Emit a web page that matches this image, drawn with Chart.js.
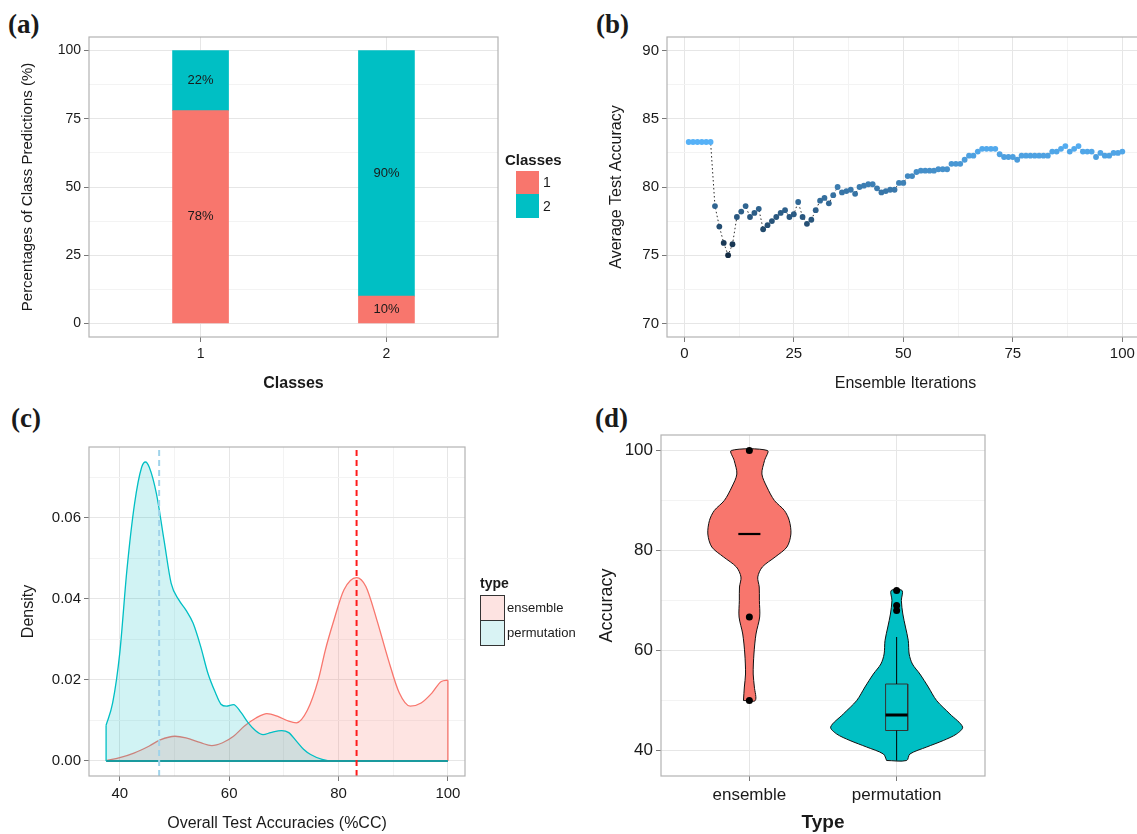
<!DOCTYPE html>
<html>
<head>
<meta charset="utf-8">
<title>Ensemble classification results</title>
<script src="https://cdn.jsdelivr.net/npm/chart.js@4.4.1/dist/chart.umd.min.js"></script>
<style>
  html, body { margin: 0; padding: 0; background: #fff; overflow: hidden; }
  #page { position: relative; width: 1137px; height: 834px; overflow: hidden;
          font-family: "Liberation Sans", Arial, sans-serif; color: #1a1a1a; }
  canvas { position: absolute; }
  .tag { position: absolute; font: bold 27px "Liberation Serif", "Times New Roman", serif; line-height: 1; }
  .legend { position: absolute; }
  .legend .ttl { position: absolute; left: 0; top: 0; font-weight: bold; white-space: nowrap; }
  .legend .key { position: absolute; box-sizing: border-box; }
  .legend .lbl { position: absolute; white-space: nowrap; }
</style>
</head>
<body>
<div id="page">
  <div class="tag" style="left:8px;top:11px">(a)</div>
  <div class="tag" style="left:596px;top:11px">(b)</div>
  <div class="tag" style="left:11px;top:405px">(c)</div>
  <div class="tag" style="left:595px;top:405px">(d)</div>

  <canvas id="chartA" width="580" height="410" style="left:0;top:0"></canvas>
  <canvas id="chartB" width="570" height="410" style="left:580px;top:0"></canvas>
  <canvas id="chartC" width="580" height="434" style="left:0;top:400px"></canvas>
  <canvas id="chartD" width="557" height="434" style="left:580px;top:400px"></canvas>

  <div class="legend" style="left:505px;top:151px;font-size:14px">
    <div class="ttl" style="font-size:15px">Classes</div>
    <div class="key" style="left:11px;top:20px;width:23px;height:23px;background:#F8766D"></div>
    <div class="key" style="left:11px;top:43px;width:23px;height:24px;background:#00BFC4"></div>
    <div class="lbl" style="left:38px;top:23px">1</div>
    <div class="lbl" style="left:38px;top:47px">2</div>
  </div>

  <div class="legend" style="left:480px;top:575px;font-size:13px">
    <div class="ttl" style="font-size:14px">type</div>
    <div class="key" style="left:0;top:20px;width:25px;height:26px;background:#fde3e1;border:1.5px solid #333"></div>
    <div class="key" style="left:0;top:45px;width:25px;height:26px;background:#d9f3f4;border:1.5px solid #333"></div>
    <div class="lbl" style="left:27px;top:25px">ensemble</div>
    <div class="lbl" style="left:27px;top:50px">permutation</div>
  </div>
</div>

<script>
// (a) class predictions
const classCats = ['1', '2'];
const class1Pct = [78, 10];
const class2Pct = [22, 90];
const pctTicks = [0, 25, 50, 75, 100];

// (b) average accuracy per ensemble iteration
const accuracy = [83.3, 83.3, 83.3, 83.3, 83.3, 83.3, 78.6, 77.1, 75.9, 75.0,
  75.8, 77.8, 78.2, 78.6, 77.8, 78.1, 78.4, 76.9, 77.2, 77.5,
  77.8, 78.1, 78.3, 77.8, 78.0, 78.9, 77.8, 77.3, 77.6, 78.3,
  79.0, 79.2, 78.8, 79.4, 80.0, 79.6, 79.7, 79.8, 79.5, 80.0,
  80.1, 80.2, 80.2, 79.9, 79.6, 79.7, 79.8, 79.8, 80.3, 80.3,
  80.8, 80.8, 81.1, 81.2, 81.2, 81.2, 81.2, 81.3, 81.3, 81.3,
  81.7, 81.7, 81.7, 82.0, 82.3, 82.3, 82.6, 82.8, 82.8, 82.8,
  82.8, 82.4, 82.2, 82.2, 82.2, 82.0, 82.3, 82.3, 82.3, 82.3,
  82.3, 82.3, 82.3, 82.6, 82.6, 82.8, 83.0, 82.6, 82.8, 83.0,
  82.6, 82.6, 82.6, 82.2, 82.5, 82.3, 82.3, 82.5, 82.5, 82.6];
const iterations = accuracy.map((_, i) => i + 1);
const iterTicks = [0, 25, 50, 75, 100];
const accTicks = [70, 75, 80, 85, 90];

// (c) density of overall test accuracies
const permDensX = [37.5, 38.7, 40, 41.3, 42.7, 44, 44.7, 45.4, 46.7, 48.1, 49.4, 50.8, 52.1, 53.4,
  54.8, 56.1, 57.5, 58.5, 59.5, 60.8, 62.2, 63.5, 64.9, 66.2, 67.6, 69.6, 70.9, 72.3, 73.6, 74.9,
  77, 79, 100];
const permDensY = [0.0088, 0.0143, 0.0266, 0.047, 0.0634, 0.0724, 0.0737, 0.0724, 0.0659, 0.0544,
  0.0438, 0.0397, 0.0372, 0.034, 0.0282, 0.0217, 0.0168, 0.014, 0.0135, 0.0139, 0.0119, 0.0094,
  0.0074, 0.0065, 0.007, 0.0075, 0.007, 0.0049, 0.0029, 0.0016, 0.0004, 0, 0];
const ensDensX = [37.5, 40, 42.7, 45.4, 47.4, 50.1, 52.1, 54.8, 56.8, 58.8, 60.8, 62.8, 64.9, 66.9,
  68.9, 70.9, 72.3, 74.3, 76.3, 77.6, 79, 81, 83.3, 85, 87, 89.1, 91.1, 93.1, 95.1, 97.1, 98.8, 100];
const ensDensY = [0.0001, 0.0008, 0.002, 0.0037, 0.0052, 0.0061, 0.0057, 0.0045, 0.0038, 0.0045,
  0.0061, 0.0086, 0.0106, 0.0117, 0.011, 0.0098, 0.0094, 0.0125, 0.02, 0.0274, 0.034, 0.0422,
  0.0452, 0.043, 0.0348, 0.025, 0.0168, 0.0135, 0.0143, 0.0168, 0.0196, 0.0199];
const meanAcc = [83.3, 47.2]; // ensemble, permutation
const densXTicks = [40, 60, 80, 100];
const densYTicks = [0, 0.02, 0.04, 0.06];

// (d) violins
const typeCats = ['ensemble', 'permutation'];
const ensViolinY = [50, 52.7, 55.3, 59.3, 63.3, 66.7, 70, 72.7, 74.7, 76.7, 78.7, 80.7, 83.3, 86, 88, 90, 92.7, 95.3, 98, 100];
const ensViolinW = [0.04, 0.034, 0.026, 0.031, 0.045, 0.07, 0.068, 0.067, 0.057, 0.088, 0.175, 0.255, 0.282, 0.271, 0.238, 0.17, 0.119, 0.085, 0.103, 0.123];
const permViolinY = [38, 39.3, 40.7, 42, 43.3, 44.7, 47.3, 50, 52.7, 55.3, 57.3, 59.3, 62, 64.7, 67.3, 70, 72];
const permViolinW = [0.068, 0.09, 0.204, 0.317, 0.407, 0.448, 0.362, 0.271, 0.215, 0.158, 0.107, 0.085, 0.079, 0.06, 0.042, 0.032, 0.037];
const ensMedian = 83.3;
const permBox = [38, 44, 47.1, 53.3, 62.7]; // lower whisker, q1, median, q3, upper whisker
const ensOutliers = [100, 66.7, 50];
const permOutliers = [72, 69, 68];
const accAxisTicks = [40, 60, 80, 100];

const RED = '#F8766D';
const TEAL = '#00BFC4';
const FONT = '"Liberation Sans", Arial, sans-serif';
Chart.defaults.font.family = FONT;
Chart.defaults.color = '#1a1a1a';

// ggplot-like frame round the panel
const frame = {
  id: 'frame',
  afterDatasetsDraw(chart) {
    const { ctx, chartArea: a } = chart;
    ctx.save();
    ctx.strokeStyle = '#b3b3b3';
    ctx.lineWidth = 1.2;
    ctx.strokeRect(a.left, a.top, a.right - a.left, a.bottom - a.top);
    ctx.restore();
  }
};

// one axis with major + minor grid lines, fixed thickness
function axis(o) {
  const minor = o.minor || [];
  const vertical = o.position === 'left';
  return {
    type: 'linear',
    position: o.position,
    min: o.min,
    max: o.max,
    offset: false,
    afterBuildTicks: s => {
      s.ticks = [...o.major, ...minor].sort((a, b) => a - b).map(v => ({ value: v }));
    },
    afterFit: s => {
      if (vertical) s.width = o.size; else s.height = o.size;
    },
    border: { display: false },
    grid: {
      offset: false,
      color: c => (c.tick && minor.includes(c.tick.value)) ? '#f3f3f3' : '#e6e6e6',
      tickColor: c => (c.tick && minor.includes(c.tick.value)) ? 'rgba(0,0,0,0)' : '#777',
      tickLength: 5
    },
    ticks: {
      autoSkip: false,
      maxRotation: 0,
      padding: o.tickPad || 3,
      font: { size: o.tickSize },
      color: '#1a1a1a',
      callback: v => {
        const i = o.major.indexOf(v);
        return i < 0 ? '' : o.labels[i];
      }
    },
    title: {
      display: true,
      text: o.title,
      font: { size: o.titleSize, weight: o.bold ? 'bold' : 'normal' },
      color: '#1a1a1a',
      padding: vertical ? { top: o.titlePad, bottom: 0 } : { top: 0, bottom: o.titlePad }
    }
  };
}

const common = {
  responsive: false,
  animation: false,
  plugins: { legend: { display: false }, tooltip: { enabled: false } }
};

// ---------- (a) ----------
const barLabels = {
  id: 'barLabels',
  afterDatasetsDraw(chart) {
    const { ctx } = chart;
    ctx.save();
    ctx.font = '13px ' + FONT;
    ctx.fillStyle = '#1a1a1a';
    ctx.textAlign = 'center';
    ctx.textBaseline = 'middle';
    chart.data.datasets.forEach((ds, i) => {
      chart.getDatasetMeta(i).data.forEach((bar, j) => {
        ctx.fillText(ds.data[j].y + '%', bar.x, (bar.y + bar.base) / 2);
      });
    });
    ctx.restore();
  }
};

new Chart(document.getElementById('chartA'), {
  type: 'bar',
  data: {
    datasets: [
      { data: class1Pct.map((v, i) => ({ x: i + 1, y: v })), backgroundColor: RED },
      { data: class2Pct.map((v, i) => ({ x: i + 1, y: v })), backgroundColor: TEAL }
    ]
  },
  options: {
    ...common,
    layout: { padding: { left: 8, top: 37, right: 82, bottom: 8 } },
    datasets: { bar: { grouped: false, barThickness: 56, borderWidth: 0 } },
    scales: {
      x: axis({ position: 'bottom', min: 0.4, max: 2.6, major: [1, 2], labels: classCats,
        size: 65, tickSize: 14, tickPad: 4, title: 'Classes', titleSize: 16, bold: true, titlePad: 9 }),
      y: { ...axis({ position: 'left', min: -5, max: 105, major: pctTicks, minor: [12.5, 37.5, 62.5, 87.5],
        labels: pctTicks.map(String), size: 81, tickSize: 14,
        title: 'Percentages of Class Predictions (%)', titleSize: 15, titlePad: 11 }), stacked: true }
    }
  },
  plugins: [frame, barLabels]
});

// ---------- (b) ----------
function shade(v) {
  const lo = Math.min(...accuracy), hi = Math.max(...accuracy);
  const t = (v - lo) / (hi - lo);
  const a = [19, 43, 67], b = [86, 177, 247];
  const c = a.map((x, k) => Math.round(x + (b[k] - x) * t));
  return `rgb(${c[0]},${c[1]},${c[2]})`;
}

new Chart(document.getElementById('chartB'), {
  type: 'scatter',
  data: {
    datasets: [{
      data: iterations.map((x, i) => ({ x, y: accuracy[i] })),
      showLine: true,
      borderColor: '#2a2a2a',
      borderWidth: 1,
      borderDash: [1.5, 2.5],
      pointRadius: 2.9,
      pointBorderWidth: 0,
      pointBackgroundColor: accuracy.map(shade)
    }]
  },
  options: {
    ...common,
    layout: { padding: { left: 8, top: 37, right: 6, bottom: 8 } },
    scales: {
      x: axis({ position: 'bottom', min: -3.95, max: 104.95, major: iterTicks, minor: [12.5, 37.5, 62.5, 87.5],
        labels: iterTicks.map(String), size: 65, tickSize: 15, tickPad: 3,
        title: 'Ensemble Iterations', titleSize: 16, titlePad: 9 }),
      y: axis({ position: 'left', min: 69, max: 91, major: accTicks, minor: [72.5, 77.5, 82.5, 87.5],
        labels: accTicks.map(String), size: 79, tickSize: 15,
        title: 'Average Test Accuracy', titleSize: 16, titlePad: 19 })
    }
  },
  plugins: [frame]
});

// ---------- (c) ----------
const curve = (xs, ys) => xs.map((x, i) => ({ x, y: ys[i] }));
const yTop = 0.0774, yBot = -0.0037;

new Chart(document.getElementById('chartC'), {
  type: 'scatter',
  data: {
    datasets: [
      { data: [{ x: meanAcc[0], y: yBot }, { x: meanAcc[0], y: yTop }], borderColor: '#ff1a1a',
        borderWidth: 2, borderDash: [6, 4], order: 0 },
      { data: [{ x: meanAcc[1], y: yBot }, { x: meanAcc[1], y: yTop }], borderColor: '#9fd3ea',
        borderWidth: 2, borderDash: [6, 4], order: 1 },
      // permutation density with its left edge and base
      { data: [{ x: permDensX[0], y: 0 }, { x: permDensX[0], y: permDensY[0] }], borderColor: TEAL, borderWidth: 1.3, order: 2 },
      { data: [{ x: permDensX[0], y: 0 }, { x: 100, y: 0 }], borderColor: '#1a9a9e', borderWidth: 2, order: 2 },
      { data: curve(permDensX, permDensY), borderColor: TEAL, borderWidth: 1.3, fill: 'origin',
        backgroundColor: 'rgba(0,191,196,0.18)', cubicInterpolationMode: 'monotone', order: 3 },
      // ensemble density with its right edge
      { data: [{ x: 100, y: 0 }, { x: 100, y: ensDensY[ensDensY.length - 1] }], borderColor: RED, borderWidth: 1.3, order: 4 },
      { data: curve(ensDensX, ensDensY), borderColor: RED, borderWidth: 1.3, fill: 'origin',
        backgroundColor: 'rgba(248,118,109,0.2)', cubicInterpolationMode: 'monotone', order: 5 }
    ]
  },
  options: {
    ...common,
    layout: { padding: { left: 8, top: 47, right: 115, bottom: 0 } },
    datasets: { scatter: { showLine: true, pointRadius: 0 } },
    scales: {
      x: axis({ position: 'bottom', min: 34.375, max: 103.125, major: densXTicks, minor: [50, 70, 90],
        labels: densXTicks.map(String), size: 58, tickSize: 15, tickPad: 4,
        title: 'Overall Test Accuracies (%CC)', titleSize: 16, titlePad: 1 }),
      y: axis({ position: 'left', min: yBot, max: yTop, major: densYTicks, minor: [0.01, 0.03, 0.05, 0.07],
        labels: densYTicks.map(v => v.toFixed(2)), size: 81, tickSize: 15,
        title: 'Density', titleSize: 16, titlePad: 11 })
    }
  },
  plugins: [frame]
});

// ---------- (d) ----------
function violin(center, ys, hw) {
  const left = ys.map((y, i) => ({ x: center - hw[i], y }));
  const right = ys.map((y, i) => ({ x: center + hw[i], y })).reverse();
  return [...left, ...right, left[0]];
}
const boxHalf = 0.075;
const [wLo, q1, med, q3, wHi] = permBox;

new Chart(document.getElementById('chartD'), {
  type: 'scatter',
  data: {
    datasets: [
      { data: ensOutliers.map(y => ({ x: 1, y })).concat(permOutliers.map(y => ({ x: 2, y }))),
        showLine: false, pointRadius: 3.5, pointBackgroundColor: '#000', pointBorderWidth: 0, order: 0 },
      { data: [{ x: 1 - boxHalf, y: ensMedian }, { x: 1 + boxHalf, y: ensMedian }], borderColor: '#000', borderWidth: 2.2, order: 1 },
      { data: [{ x: 2 - boxHalf, y: med }, { x: 2 + boxHalf, y: med }], borderColor: '#000', borderWidth: 3, order: 1 },
      { data: [{ x: 2, y: q3 }, { x: 2, y: wHi }], borderColor: '#000', borderWidth: 1, order: 2 },
      { data: [{ x: 2, y: wLo }, { x: 2, y: q1 }], borderColor: '#000', borderWidth: 1, order: 2 },
      { data: [{ x: 2 - boxHalf, y: q1 }, { x: 2 - boxHalf, y: q3 }, { x: 2 + boxHalf, y: q3 },
               { x: 2 + boxHalf, y: q1 }, { x: 2 - boxHalf, y: q1 }],
        borderColor: '#333', borderWidth: 1, fill: 'shape', backgroundColor: TEAL, order: 3 },
      { data: violin(2, permViolinY, permViolinW), borderColor: '#111', borderWidth: 1, tension: 0.3,
        fill: 'shape', backgroundColor: TEAL, order: 4 },
      { data: violin(1, ensViolinY, ensViolinW), borderColor: '#111', borderWidth: 1, tension: 0.3,
        fill: 'shape', backgroundColor: RED, order: 5 }
    ]
  },
  options: {
    ...common,
    layout: { padding: { left: 8, top: 35, right: 152, bottom: 0 } },
    datasets: { scatter: { showLine: true, pointRadius: 0 } },
    scales: {
      x: axis({ position: 'bottom', min: 0.4, max: 2.6, major: [1, 2], labels: typeCats,
        size: 58, tickSize: 17, tickPad: 4, title: 'Type', titleSize: 19, bold: true, titlePad: 0 }),
      y: axis({ position: 'left', min: 34.9, max: 103.1, major: accAxisTicks, minor: [50, 70, 90],
        labels: accAxisTicks.map(String), size: 73, tickSize: 17,
        title: 'Accuracy', titleSize: 18, titlePad: 8 })
    }
  },
  plugins: [frame]
});
</script>
</body>
</html>
